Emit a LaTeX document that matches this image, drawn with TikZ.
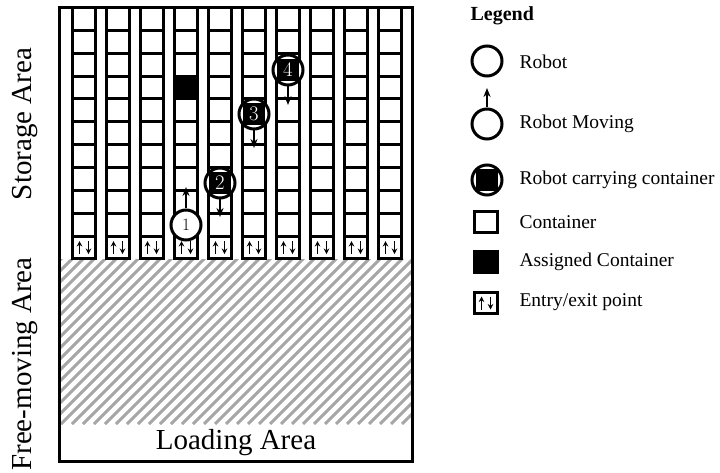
\documentclass[tikz,border=0pt]{standalone}
\usepackage{fontspec}
\setmainfont{Liberation Serif}
\usetikzlibrary{arrows.meta}

\begin{document}
\begin{tikzpicture}[x=1pt,y=-1pt,
    cell/.style={rectangle,draw,line width=3pt,minimum width=23pt,minimum height=22.86pt,inner sep=0pt},
    robot/.style={circle,draw,fill=white,line width=3pt,minimum size=30pt,inner sep=0pt,font=\fontsize{18}{18}\selectfont},
    carrier/.style={robot,text=white,font=\fontsize{22}{22}\selectfont,path picture={\fill[black] ([shift={(-11pt,-11pt)}]path picture bounding box.center) rectangle ++(22pt,22pt);}},
    move/.style={-{Stealth[length=9pt,width=7pt]},line width=1.8pt},
    gatearrow/.style={-{Stealth[length=5.5pt,width=5.5pt]},line width=1.6pt},
    hatch/.style={black!35,line width=3pt},
    area/.style={font=\fontsize{29}{30}\selectfont},
    key/.style={anchor=west,font=\fontsize{19.5}{22}\selectfont}]

\useasboundingbox (0,0) rectangle (720,473);

% free-moving area
\begin{scope}
\clip (59.5,259) rectangle (412.5,424);
\foreach \x in {-170,-159,...,420}
  \draw[hatch] (\x,424) -- ++(180,-180);
\end{scope}

\draw[line width=3pt] (59.5,7.5) rectangle (412.5,461.5);

% storage columns
\foreach \k in {0,...,9} {
  \foreach \r in {0,...,9}
    \node[cell] (c-\k-\r) at ({84+34*\k},{18.93+22.86*\r}) {};
  \node[cell] (e-\k) at ({84+34*\k},{18.93+22.86*10}) {};
  \draw[gatearrow] ([shift={(-4.5,6.5)}]e-\k.center) -- ([shift={(-4.5,-6.5)}]e-\k.center);
  \draw[gatearrow] ([shift={(4.5,-6.5)}]e-\k.center) -- ([shift={(4.5,6.5)}]e-\k.center);
}
\node[cell,fill=black] (target) at (c-3-3) {};

% robots
\node[robot] (r1) at (186,225) {$1$};
\node[carrier] (r2) at (220,183) {$2$};
\node[carrier] (r3) at (254,114) {$3$};
\node[carrier] (r4) at (288,70) {$4$};

\coordinate (r1-to) at (186,187);
\coordinate (r2-to) at (220,217);
\coordinate (r3-to) at (254,148);
\coordinate (r4-to) at (288,105);
\draw[move] (r1) -- (r1-to);
\draw[move] (r2) -- (r2-to);
\draw[move] (r3) -- (r3-to);
\draw[move] (r4) -- (r4-to);

% area names
\node[area,rotate=90] (storage) at (25,124) {Storage Area};
\node[area,rotate=90] (free) at (25,364) {Free-moving Area};
\node[area] (loading) at (236,443) {Loading Area};

% legend
\node[anchor=west,font=\bfseries\fontsize{20}{22}\selectfont] (legend) at (467,16) {Legend};

\node[robot] (k1) at (487,61) {};
\node[key] (k1-text) at (516,62) {Robot};

\node[robot] (k2) at (487,124) {};
\coordinate (k2-to) at (487,88);
\draw[move] (k2) -- (k2-to);
\node[key] (k2-text) at (516,124) {Robot Moving};

\node[carrier] (k3) at (487,180) {};
\node[key] (k3-text) at (516,180) {Robot carrying container};

\node[cell,minimum height=21pt] (k4) at (486,222) {};
\node[key] (k4-text) at (516,222) {Container};

\node[cell,minimum height=21pt,fill=black] (k5) at (486,262) {};
\node[key] (k5-text) at (516,262) {Assigned Container};

\node[cell,minimum height=21pt] (k6) at (486,303) {};
\draw[gatearrow] ([shift={(-4.5,6.5)}]k6.center) -- ([shift={(-4.5,-6.5)}]k6.center);
\draw[gatearrow] ([shift={(4.5,-6.5)}]k6.center) -- ([shift={(4.5,6.5)}]k6.center);
\node[key] (k6-text) at (516,302) {Entry/exit point};
\end{tikzpicture}
\end{document}
